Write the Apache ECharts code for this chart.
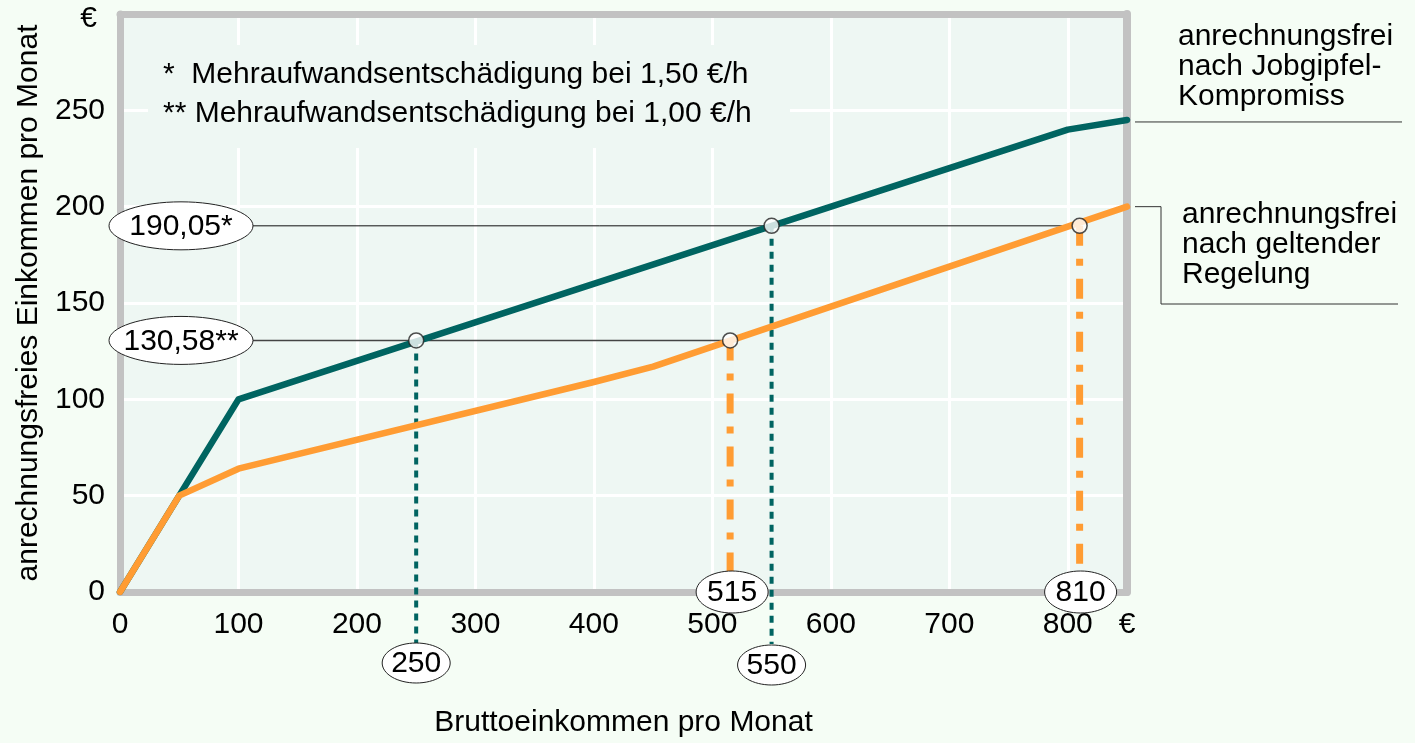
<!DOCTYPE html>
<html lang="de">
<head>
<meta charset="UTF-8">
<title>Anrechnungsfreies Einkommen</title>
<script src="https://cdn.jsdelivr.net/npm/echarts@6/dist/echarts.min.js"></script>
<style>
    html, body { margin: 0; padding: 0; background: #f5fdf5; }
    #box { width: 1415px; height: 743px; }
</style>
</head>
<body>
<div id="box"></div>
<script>
    // Werte
    const jobgipfelX = [0, 50, 100, 800, 850];
    const jobgipfelY = [0, 50, 100, 240, 245];
    const geltendX = [0, 50, 100, 400, 450, 850];
    const geltendY = [0, 50, 64, 109, 117, 200];

    const betrag1 = 190.05;   // bei 1,50 €/h
    const betrag2 = 130.58;   // bei 1,00 €/h
    const jobgipfelBrutto = [250, 550];   // Schnittpunkte Jobgipfel
    const geltendBrutto = [515, 810];     // Schnittpunkte geltende Regelung
    const xTicks = [0, 100, 200, 300, 400, 500, 600, 700, 800];
    const yTicks = [0, 50, 100, 150, 200, 250];

    const FONT = '"Liberation Sans", Arial, Helvetica, sans-serif';
    const TEAL = '#006461';
    const ORANGE = '#ff9c33';
    const GRAY = '#c2c2c2';
    const PLOT_BG = '#eef7f3';

    const fmt = v => v.toFixed(2).replace('.', ',');

    var myChart = echarts.init(document.getElementById('box'));

    const pairs = (xs, ys) => xs.map((x, i) => [x, ys[i]]);
    const dropSeries = (x, y, bottom, color, width, dash) => ({
        type: 'line', data: [[x, y], [x, bottom]], symbol: 'none', clip: false, z: 1,
        lineStyle: { color: color, width: width, type: dash }
    });

    var option = {
        backgroundColor: '#f5fdf5',
        textStyle: { fontFamily: FONT },
        animation: false,
        grid: { left: 120, right: 288, top: 14, bottom: 148, show: true, backgroundColor: PLOT_BG,
                borderWidth: 0 },
        xAxis: [{
            type: 'value', min: 0, max: 850, interval: 100,
            axisLine: { show: true, onZero: false, lineStyle: { color: GRAY, width: 7 } },
            axisTick: { show: false },
            splitLine: { show: true, lineStyle: { color: '#ffffff', width: 3 } },
            axisLabel: {
                fontSize: 30, color: '#000', margin: 18, fontFamily: FONT,
                formatter: v => v === 850 ? '€' : (xTicks.includes(v) ? String(v) : '')
            },
            name: 'Bruttoeinkommen pro Monat', nameLocation: 'middle', nameGap: 116,
            nameTextStyle: { fontSize: 30, color: '#000', fontFamily: FONT }
        }, {
            type: 'value', position: 'top', min: 0, max: 850,
            axisLine: { show: true, onZero: false, lineStyle: { color: GRAY, width: 7 } },
            axisTick: { show: false }, axisLabel: { show: false }, splitLine: { show: false }
        }],
        yAxis: [{
            type: 'value', min: 0, max: 300, interval: 50,
            axisLine: { show: true, onZero: false, lineStyle: { color: GRAY, width: 7 } },
            axisTick: { show: false },
            splitLine: { show: true, lineStyle: { color: '#ffffff', width: 3 } },
            axisLabel: {
                fontSize: 30, color: '#000', margin: 15, fontFamily: FONT,
                formatter: v => v === 300 ? '{e|€}' : (yTicks.includes(v) ? String(v) : ''),
                rich: { e: { fontSize: 30, color: '#000', fontFamily: FONT, padding: [10, 8, 0, 0] } }
            },
            name: 'anrechnungsfreies Einkommen pro Monat', nameLocation: 'middle', nameGap: 72,
            nameTextStyle: { fontSize: 30, color: '#000', fontFamily: FONT }
        }, {
            type: 'value', position: 'right', min: 0, max: 300,
            axisLine: { show: true, onZero: false, lineStyle: { color: GRAY, width: 8 } },
            axisTick: { show: false }, axisLabel: { show: false }, splitLine: { show: false }
        }],
        series: [
            // waagrechte Hilfslinien
            { type: 'line', data: [[0, betrag1], [geltendBrutto[1], betrag1]], symbol: 'none', z: 1,
              lineStyle: { color: '#111', width: 1 } },
            { type: 'line', data: [[0, betrag2], [geltendBrutto[0], betrag2]], symbol: 'none', z: 1,
              lineStyle: { color: '#444', width: 1.5 } },
            // senkrechte Hilfslinien
            dropSeries(jobgipfelBrutto[0], betrag2, -27, TEAL, 4, [7, 6]),
            dropSeries(jobgipfelBrutto[1], betrag1, -27, TEAL, 4, [7, 6]),
            dropSeries(geltendBrutto[0], betrag2, 0, ORANGE, 7, [20, 13, 7, 13]),
            dropSeries(geltendBrutto[1], betrag1, 0, ORANGE, 7, [20, 13, 7, 13]),
            {
                name: 'Jobgipfel', type: 'line', data: pairs(jobgipfelX, jobgipfelY), symbol: 'none', z: 3,
                lineStyle: { color: TEAL, width: 6.5, cap: 'round', join: 'round' }
            },
            {
                name: 'geltende Regelung', type: 'line', data: pairs(geltendX, geltendY), symbol: 'none', z: 4,
                lineStyle: { color: ORANGE, width: 6.5, cap: 'round', join: 'round' }
            },
            {
                type: 'scatter', z: 5, symbol: 'circle', symbolSize: 15,
                itemStyle: { color: '#fff', borderColor: '#222', borderWidth: 1.5 },
                data: [[jobgipfelBrutto[0], betrag2], [jobgipfelBrutto[1], betrag1],
                       [geltendBrutto[0], betrag2], [geltendBrutto[1], betrag1]]
            }
        ]
    };
    myChart.setOption(option);

    // Beschriftungen (Ellipsen, Fußnoten, rechte Legende)
    const px = p => myChart.convertToPixel({ gridIndex: 0 }, p);
    const origin = px([0, 0]);
    const ellipse = (cx, cy, rx, ry, text) => ([
        { type: 'ellipse', z: 100, shape: { cx: cx, cy: cy, rx: rx, ry: ry },
          style: { fill: '#ffffff', stroke: '#222', lineWidth: 1 } },
        { type: 'text', z: 101, x: cx, y: cy + 1,
          style: { text: text, fill: '#000', font: '30px ' + FONT, align: 'center', verticalAlign: 'middle' } }
    ]);
    const textBlock = (x, y, lines) => ({
        type: 'text', x: x, y: y, z: 100,
        style: { text: lines.join('\n'), fill: '#000', font: '30px ' + FONT, lineHeight: 30 }
    });

    const p1 = px([0, betrag1]);
    const p2 = px([0, betrag2]);
    const jEnd = px([jobgipfelX[jobgipfelX.length - 1], jobgipfelY[jobgipfelY.length - 1]]);
    const gEnd = px([geltendX[geltendX.length - 1], geltendY[geltendY.length - 1]]);

    const graphic = [].concat(
        // Fußnoten mit Hintergrund
        [{ type: 'rect', z: 50, shape: { x: origin[0] + 28, y: 45, width: 642, height: 103 }, style: { fill: PLOT_BG } },
         textBlock(origin[0] + 43, 60, ['*  Mehraufwandsentschädigung bei 1,50 €/h']),
         textBlock(origin[0] + 43, 99, ['** Mehraufwandsentschädigung bei 1,00 €/h'])],
        ellipse(origin[0] + 61, p1[1], 72, 24, fmt(betrag1) + '*'),
        ellipse(origin[0] + 61, p2[1], 72, 24, fmt(betrag2) + '**'),
        ellipse(px([jobgipfelBrutto[0], 0])[0], origin[1] + 71, 34, 20, String(jobgipfelBrutto[0])),
        ellipse(px([jobgipfelBrutto[1], 0])[0], origin[1] + 73, 34, 20, String(jobgipfelBrutto[1])),
        ellipse(px([geltendBrutto[0], 0])[0] + 2, origin[1], 36, 21, String(geltendBrutto[0])),
        ellipse(px([geltendBrutto[1], 0])[0] + 1, origin[1], 36, 21, String(geltendBrutto[1])),
        // rechte Beschriftung
        [textBlock(1178, 22, ['anrechnungsfrei', 'nach Jobgipfel-', 'Kompromiss']),
         { type: 'polyline', z: 100, shape: { points: [[jEnd[0] + 8, jEnd[1] + 2], [1402, jEnd[1] + 2]] },
           style: { stroke: '#333', lineWidth: 1, fill: null } },
         textBlock(1182, 200, ['anrechnungsfrei', 'nach geltender', 'Regelung']),
         { type: 'polyline', z: 100,
           shape: { points: [[gEnd[0] + 8, gEnd[1]], [1161, gEnd[1]], [1161, 304], [1398, 304]] },
           style: { stroke: '#333', lineWidth: 1, fill: null } }]
    );
    myChart.setOption({ graphic: graphic });
</script>
</body>
</html>
